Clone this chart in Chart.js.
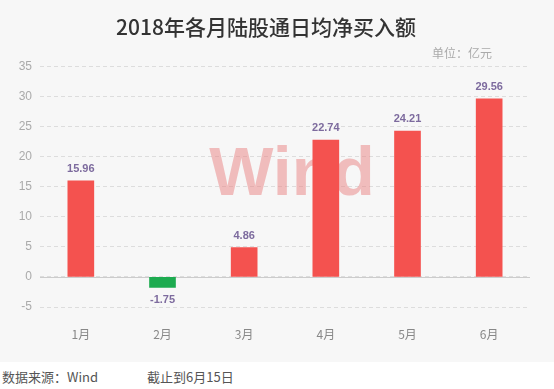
<!DOCTYPE html>
<html>
<head>
<meta charset="utf-8">
<script src="https://cdn.jsdelivr.net/npm/chart.js@4"></script>
<style>
  body { margin: 0; background: #fff; font-family: "Noto Sans CJK SC", sans-serif; }
  #wrap { width: 554px; height: 362px; background: #f7f7f7; }
  #foot { position: relative; height: 27px; color: #555; font-size: 13px; }
  #foot span { position: absolute; top: 5px; }
</style>
</head>
<body>
<div id="wrap"><canvas id="myChart" width="554" height="362"></canvas></div>
<div id="foot"><span style="left:2px">数据来源：Wind</span><span style="left:147px">截止到6月15日</span></div>
<script>
var months = ['1月', '2月', '3月', '4月', '5月', '6月'];
var netBuy = [15.96, -1.75, 4.86, 22.74, 24.21, 29.56];
var yTicks = [-5, 0, 5, 10, 15, 20, 25, 30, 35];

var cjk = '"Noto Sans CJK SC", sans-serif';

// watermark, zero line, value labels and unit text
var extras = {
    id: 'extras',
    beforeDatasetsDraw: function (chart) {
        var c = chart.ctx, a = chart.chartArea, y = chart.scales.y;
        c.save();
        c.font = 'bold 68px "Liberation Sans", sans-serif';
        c.fillStyle = 'rgba(234, 130, 130, 0.5)';
        c.textAlign = 'center';
        c.textBaseline = 'alphabetic';
        c.fillText('Wind', 292, 195);
        var z = Math.round(y.getPixelForValue(0)) + 0.5;
        c.strokeStyle = '#cccccc';
        c.lineWidth = 1;
        c.beginPath();
        c.moveTo(a.left, z);
        c.lineTo(a.right, z);
        c.stroke();
        c.restore();
    },
    afterDraw: function (chart) {
        var c = chart.ctx;
        c.save();
        c.font = 'bold 11px "Liberation Sans", sans-serif';
        c.fillStyle = '#7d6b9e';
        c.textAlign = 'center';
        c.textBaseline = 'middle';
        chart.getDatasetMeta(0).data.forEach(function (bar, i) {
            var v = netBuy[i];
            var ty = v >= 0 ? bar.y - 12 : bar.y + 13;
            c.fillText(v.toFixed(2), bar.x, ty);
        });
        c.font = '12px ' + cjk;
        c.fillStyle = '#aaaaaa';
        c.textAlign = 'right';
        c.fillText('单位：亿元', 492, 53);
        c.restore();
    }
};

var ctx = document.getElementById('myChart').getContext('2d');
var myChart = new Chart(ctx, {
    type: 'bar',
    data: {
        labels: months,
        datasets: [{
            data: netBuy,
            backgroundColor: netBuy.map(function (v) { return v >= 0 ? '#f4524f' : '#1dab50'; }),
            barThickness: 26
        }]
    },
    options: {
        responsive: false,
        animation: false,
        layout: { padding: { left: 2, right: 24, bottom: 20 } },
        plugins: {
            legend: { display: false },
            tooltip: { enabled: false },
            title: {
                display: true,
                text: '2018年各月陆股通日均净买入额',
                color: '#333333',
                font: { family: cjk, size: 21, weight: '500' },
                padding: { top: 14, bottom: 27 }
            }
        },
        scales: {
            x: {
                afterFit: function (s) { s.height = 35; },
                grid: { display: false },
                border: { display: false },
                ticks: { color: '#888888', font: { family: cjk, size: 12 }, padding: 12 }
            },
            y: {
                min: -5,
                max: 35,
                afterBuildTicks: function (s) { s.ticks = yTicks.map(function (v) { return { value: v }; }); },
                afterFit: function (s) { s.width = 38; },
                grid: { color: '#dddddd', drawTicks: false },
                border: { display: false, dash: [4, 3] },
                ticks: { color: '#aaaaaa', font: { family: '"Liberation Sans", sans-serif', size: 12 }, padding: 8 }
            }
        }
    },
    plugins: [extras]
});
</script>
</body>
</html>
